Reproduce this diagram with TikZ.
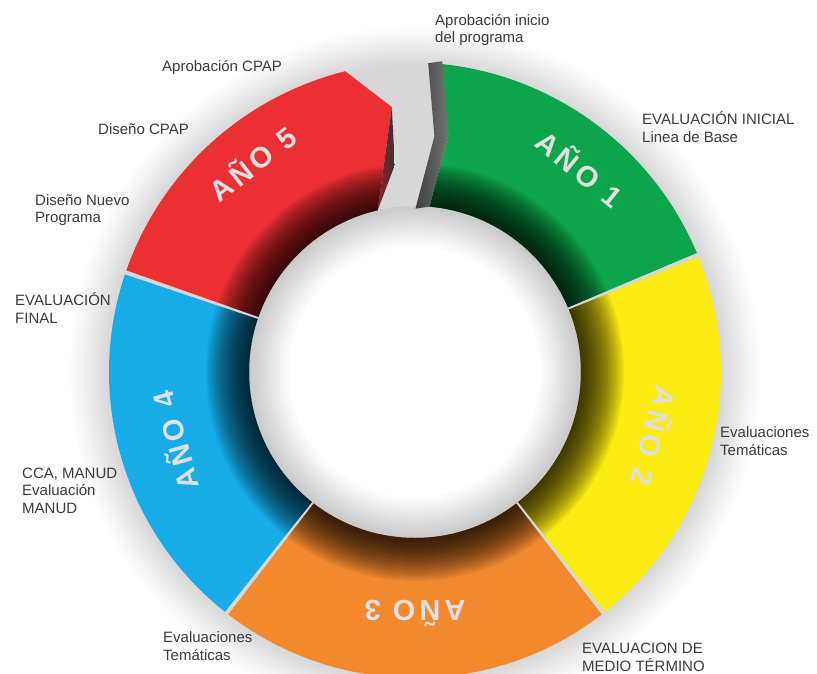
\documentclass[tikz,border=0pt]{standalone}
\usepackage{fontspec}
\setmainfont{Liberation Sans}
\newfontfamily\anofont[LetterSpace=14]{Liberation Sans}
\usetikzlibrary{positioning,calc}
\definecolor{anored}{HTML}{EC2F33}
\definecolor{anogreen}{HTML}{0DA54B}
\definecolor{anoyellow}{HTML}{FCEC12}
\definecolor{anoorange}{HTML}{F3892F}
\definecolor{anoblue}{HTML}{17ACE8}
\definecolor{labelgray}{HTML}{3B3B3B}

\tikzset{
  lbl/.style={font=\fontsize{15}{17.5}\selectfont, text=labelgray, align=left, anchor=base west, inner sep=0pt},
  anotext/.style={font=\anofont\bfseries\fontsize{29}{29}\selectfont, text=white!88!black, inner sep=0pt},
}

% one ring piece with its dark inner edge
\newcommand{\ringpiece}[2]{%
  \fill[#2] #1;
  \begin{scope}
    \clip #1;
    \foreach \r in {167,169,...,209}
      \fill[black,opacity=0.06,even odd rule] (0,0) circle (\r) (0,0) circle (166);
  \end{scope}}

\begin{document}
\begin{tikzpicture}[x=1pt,y=1pt]
\useasboundingbox (-415,-301) rectangle (402,372);
\fill[white] (-415,-301) rectangle (402,372);

% soft halo round the ring
\foreach \r in {307,309,...,345}
  \fill[black,opacity=0.009] (0,0) circle (\r);

% white centre with grey rim
\fill[white] (0,0) circle (166);
\foreach \r in {126,129,...,164}
  \fill[black,opacity=0.016,even odd rule] (0,0) circle (166) (0,0) circle (\r);

% the five years
\ringpiece{(22.9:166) -- (22.9:306) arc[start angle=22.9,end angle=85,radius=312] -- (82:240) -- (85:166) arc[start angle=85,end angle=22.9,radius=166] -- cycle}{anogreen}
\ringpiece{(-51.6:166) -- (-51.6:306) arc[start angle=-51.6,end angle=22.1,radius=306] -- (22.1:166) arc[start angle=22.1,end angle=-51.6,radius=166] -- cycle}{anoyellow}
\ringpiece{(-127.6:166) -- (-127.6:306) arc[start angle=-127.6,end angle=-52.4,radius=306] -- (-52.4:166) arc[start angle=-52.4,end angle=-127.6,radius=166] -- cycle}{anoorange}
\ringpiece{(161.4:166) -- (161.4:306) arc[start angle=161.4,end angle=231.6,radius=306] -- (231.6:166) arc[start angle=231.6,end angle=161.4,radius=166] -- cycle}{anoblue}
\ringpiece{(160.6:166) -- (160.6:306) arc[start angle=160.6,end angle=104,radius=312] -- (95:266) -- (103:166) arc[start angle=103,end angle=160.6,radius=166] -- cycle}{anored}

% end faces at the top opening
\shade[left color=anored!65!black, right color=black!80] (95:266) -- ++(3,-58) -- (103:166) -- cycle;
\shade[left color=black!75, right color=black!55]
  (85:312) -- ($(85:312)+(-14,-2)$) -- ($(82:240)+(-14,-2)$) -- ($(85:166)+(-14,-2)$)
  -- (85:166) -- (82:240) -- cycle;

% year names along the ring
\foreach \n/\a/\r in {1/51/263, 2/-15/249, 3/-90/241, 4/196/251, 5/128/266}
  \node[anotext, rotate=\a-90] (ano\n) at (\a:\r) {AÑO \n};

% milestones (anchored on the last line)
\node[lbl] (aprobinicio) at (20,329) {Aprobación inicio\\del programa};
\node[lbl] (evalinicial) at (227,230) {EVALUACIÓN INICIAL\\Linea de Base};
\node[lbl] (evaltemdos) at (305,-83) {Evaluaciones\\Temáticas};
\node[lbl] (evalmedio) at (167,-299) {EVALUACION DE\\MEDIO TÉRMINO};
\node[lbl] (evaltemtres) at (-252,-288) {Evaluaciones\\Temáticas};
\node[lbl] (ccamanud) at (-393,-141) {CCA, MANUD\\Evaluación\\MANUD};
\node[lbl] (evalfinal) at (-400,49) {EVALUACIÓN\\FINAL};
\node[lbl] (disenoprog) at (-380,149.5) {Diseño Nuevo\\Programa};
\node[lbl] (disenocpap) at (-317,238) {Diseño CPAP};
\node[lbl] (aprobcpap) at (-253,300) {Aprobación CPAP};
\end{tikzpicture}
\end{document}
